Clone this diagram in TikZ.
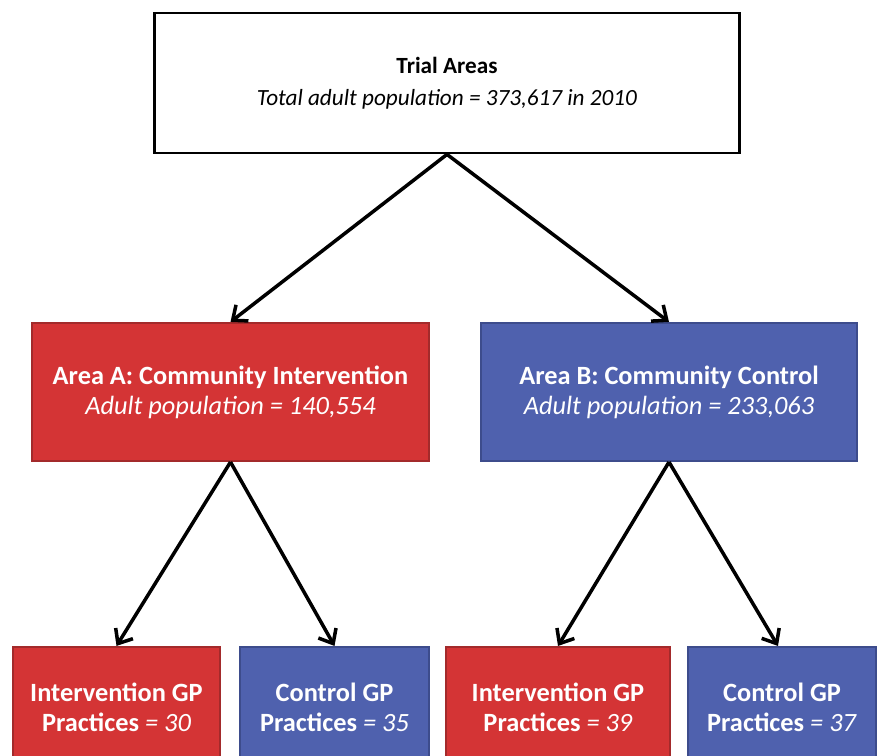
\documentclass[tikz,border=0pt]{standalone}
\usepackage{fontspec}
\setmainfont{Carlito}
\usetikzlibrary{positioning,calc}
\usetikzlibrary{arrows,arrows.meta}

\definecolor{areared}{HTML}{D43435}
\definecolor{areareddark}{HTML}{A32A2B}
\definecolor{areablue}{HTML}{4F61AE}
\definecolor{areabluedark}{HTML}{3D4C8C}

\begin{document}
\begin{tikzpicture}[>={Straight Barb[angle=80:9pt]}, x=.02cm, y=-.02cm,
    box/.style={draw, line width=1.2pt, align=center, inner sep=0pt,
        font=\fontsize{15}{17}\selectfont},
    redbox/.style={box, fill=areared, draw=areareddark, text=white},
    bluebox/.style={box, fill=areablue, draw=areabluedark, text=white},
    link/.style={->, line width=2pt}]

    \useasboundingbox (0, 0) rectangle (880, 756);
    \clip (0, 0) rectangle (880, 756);

    % top level
    \node [box, line width=1.6pt, font=\fontsize{13.2}{18}\selectfont,
        minimum width=11.7cm, minimum height=2.8cm] (trial) at (447, 83)
        {\textbf{Trial Areas}\\ \textit{Total adult population = 373,617 in 2010}};

    % the two areas
    \node [redbox, minimum width=7.94cm, minimum height=2.76cm] (areaA) at (230.5, 392)
        {\textbf{Area A: Community Intervention}\\ \textit{Adult population = 140,554}};
    \node [bluebox, minimum width=7.52cm, minimum height=2.76cm] (areaB) at (669, 392)
        {\textbf{Area B: Community Control}\\ \textit{Adult population = 233,063}};

    % practices (cut at the bottom)
    \node [redbox, minimum width=4.14cm, minimum height=2.4cm] (intA) at (116.5, 707)
        {\textbf{Intervention GP}\\ \textbf{Practices} \textit{= 30}};
    \node [bluebox, minimum width=3.78cm, minimum height=2.4cm] (ctlA) at (334.5, 707)
        {\textbf{Control GP}\\ \textbf{Practices} \textit{= 35}};
    \node [redbox, minimum width=4.48cm, minimum height=2.4cm] (intB) at (558, 707)
        {\textbf{Intervention GP}\\ \textbf{Practices} \textit{= 39}};
    \node [bluebox, minimum width=3.76cm, minimum height=2.4cm] (ctlB) at (782, 707)
        {\textbf{Control GP}\\ \textbf{Practices} \textit{= 37}};

    \draw [link] (trial.south) -- (areaA.north);
    \draw [link] (trial.south) -- (areaB.north);
    \draw [link] (areaA.south) -- (intA.north);
    \draw [link] (areaA.south) -- (ctlA.north);
    \draw [link] (areaB.south) -- (intB.north);
    \draw [link] (areaB.south) -- ($(ctlB.north)+(-4, 0)$);

\end{tikzpicture}
\end{document}
